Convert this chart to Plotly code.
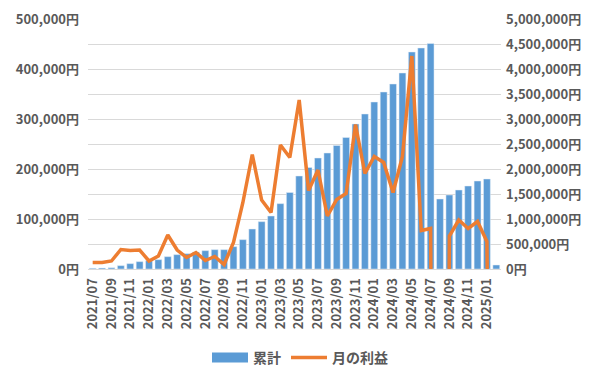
import plotly.graph_objects as go

months = []
y, m = 2021, 7
for _ in range(44):
    months.append(f"{y}/{m:02d}")
    m += 1
    if m > 12:
        m = 1
        y += 1

cumulative = [15000, 20000, 25000, 67000, 107000, 147000, 167000, 187000, 247000, 287000,
              307000, 340000, 367000, 387000, 387000, 447000, 587000, 800000, 947000, 1060000,
              1307000, 1530000, 1860000, 2030000, 2220000, 2320000, 2470000, 2630000, 2900000, 3100000,
              3340000, 3540000, 3700000, 3920000, 4340000, 4420000, 4510000, 1400000, 1480000, 1580000,
              1660000, 1760000, 1800000, 80000]

monthly = [13000, 13000, 16000, 39000, 37000, 38000, 16000, 26000, 68000, 38000,
           23000, 33000, 17000, 25000, 9000, 53000, 133000, 229000, 138000, 113000,
           248000, 223000, 338000, 157000, 198000, 106000, 139000, 151000, 289000, 191000,
           225000, 213000, 153000, 225000, 426000, 77000, 81000, -3110000, 66000, 98000,
           81000, 95000, 55000, -1720000]

left_ticks = [0, 100000, 200000, 300000, 400000, 500000]
right_ticks = [0, 500000, 1000000, 1500000, 2000000, 2500000, 3000000, 3500000, 4000000, 4500000, 5000000]

FONT = "Noto Sans CJK JP"
GRAY = "#595959"
BLUE = "#5b9bd5"
ORANGE = "#ed7d31"

tf = dict(family=FONT, size=13, color=GRAY, weight="bold")

W, H = 594, 378  # page body has an 8px margin

fig = go.Figure()
fig.add_trace(go.Bar(x=months, y=cumulative, name="累計", marker_color=BLUE,
                     yaxis="y", showlegend=False))
# legend entry for the bars (wide rectangle like the original)
fig.add_trace(go.Scatter(x=[None], y=[None], name="累計", mode="lines",
                         line=dict(color=BLUE, width=12), yaxis="y"))
fig.add_trace(go.Scatter(x=months, y=monthly, name="月の利益", mode="lines",
                         line=dict(color=ORANGE, width=3.5), yaxis="y2"))

fig.update_layout(
    width=W, height=H,
    margin=dict(l=80, r=101, t=11, b=117, autoexpand=False),
    paper_bgcolor="white", plot_bgcolor="white",
    font=dict(family=FONT, size=13, color=GRAY),
    bargap=0.27,
    showlegend=True,
    legend=dict(orientation="h", x=(300 - 8) / W, xanchor="center", xref="container",
                y=(H - 350) / H, yanchor="middle", yref="container",
                font=dict(family=FONT, size=14, color=GRAY, weight="bold"), itemwidth=36,
                tracegroupgap=0),
    xaxis=dict(type="category", tickangle=-90, automargin=False,
               tickvals=months[::2], ticktext=months[::2],
               showgrid=False, showline=True, linecolor="#d9d9d9", linewidth=1,
               ticks="", tickfont=tf, ticklabelstandoff=3),
    yaxis=dict(side="right", range=[0, 5000000], tickvals=right_ticks, automargin=False,
               ticktext=[f"{v:,}円" for v in right_ticks],
               showgrid=True, gridcolor="#d9d9d9", zeroline=False,
               tickfont=tf, ticks="", showline=False, ticklabelstandoff=4),
    yaxis2=dict(side="left", overlaying="y", range=[0, 500000], tickvals=left_ticks,
                automargin=False,
                ticktext=[f"{v:,}円" for v in left_ticks],
                showgrid=False, zeroline=False,
                tickfont=tf, ticks="", showline=False, ticklabelstandoff=8),
)

fig.write_html("out.html")
